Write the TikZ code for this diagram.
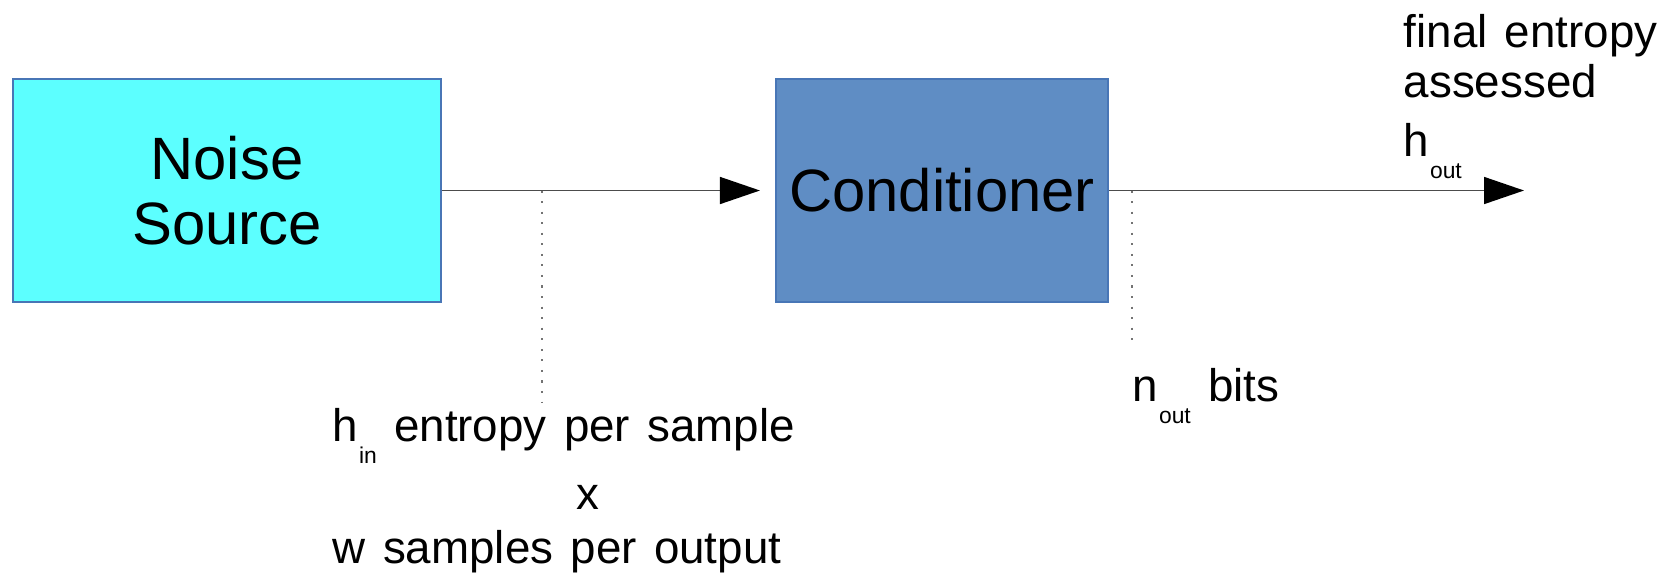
\documentclass[tikz,border=0pt]{standalone}
\usepackage{fontspec}
\setmainfont{Liberation Sans}
\usetikzlibrary{positioning, arrows.meta, calc}

\definecolor{noisecyan}{RGB}{92,255,255}
\definecolor{condblue}{RGB}{95,141,196}
\definecolor{boxline}{RGB}{72,118,182}

\newcommand{\labelfont}{\fontsize{13}{15}\selectfont\spaceskip=0.38em\relax}
\newcommand{\lowsub}[1]{\kern0.02em\raisebox{-0.5em}{\fontsize{6.5}{7}\selectfont #1}}

\begin{document}
\begin{tikzpicture}[x=0.01cm, y=-0.01cm, >={Triangle[length=0.4cm, width=0.27cm, color=black]},
	block/.style={draw=boxline, line width=0.55pt, inner sep=0pt, align=center, font=\fontsize{17}{18.5}\selectfont},
	lbl/.style={inner sep=0pt, anchor=base west, font=\labelfont},
	flow/.style={->, draw=black!70, line width=0.45pt},
	tick/.style={draw=gray!90!black, line width=0.75pt, dash pattern=on 0.6pt off 2.4pt}]
		\useasboundingbox (0,0) rectangle (1680,572);
		
		\node [block, fill=noisecyan, minimum width=4.28cm, minimum height=2.23cm] (noise) at (227,190.5) {Noise\\Source};
		\node [block, fill=condblue, minimum width=3.32cm, minimum height=2.22cm] (cond) at (942,190.5) {Conditioner};
		
		\coordinate (out) at (1524,190.5);
		\draw [flow, shorten >=0.15cm] (noise.east) -- (cond.west);
		\draw [flow] (cond.east) -- (out);
		
		% taps on the two lines
		\coordinate (tapin) at (542,190.5);
		\coordinate (tapinend) at (542,402);
		\coordinate (tapout) at (1132,190.5);
		\coordinate (tapoutend) at (1132,341);
		\draw [tick] (tapin) -- (tapinend);
		\draw [tick] (tapout) -- (tapoutend);
		
		\node [lbl] (hin) at (332,441) {h\lowsub{in} entropy per sample};
		\node [lbl, anchor=base] (times) at (588,509) {x};
		\node [lbl] (wsamp) at (332,563) {w samples per output};
		\node [lbl] (nout) at (1132,401) {n\lowsub{out} bits};
		
		\node [lbl] (fin) at (1403,47) {final entropy};
		\node [lbl] (assess) at (1403,97) {assessed};
		\node [lbl] (hout) at (1403,156) {h\lowsub{out}};
	\end{tikzpicture}
\end{document}
